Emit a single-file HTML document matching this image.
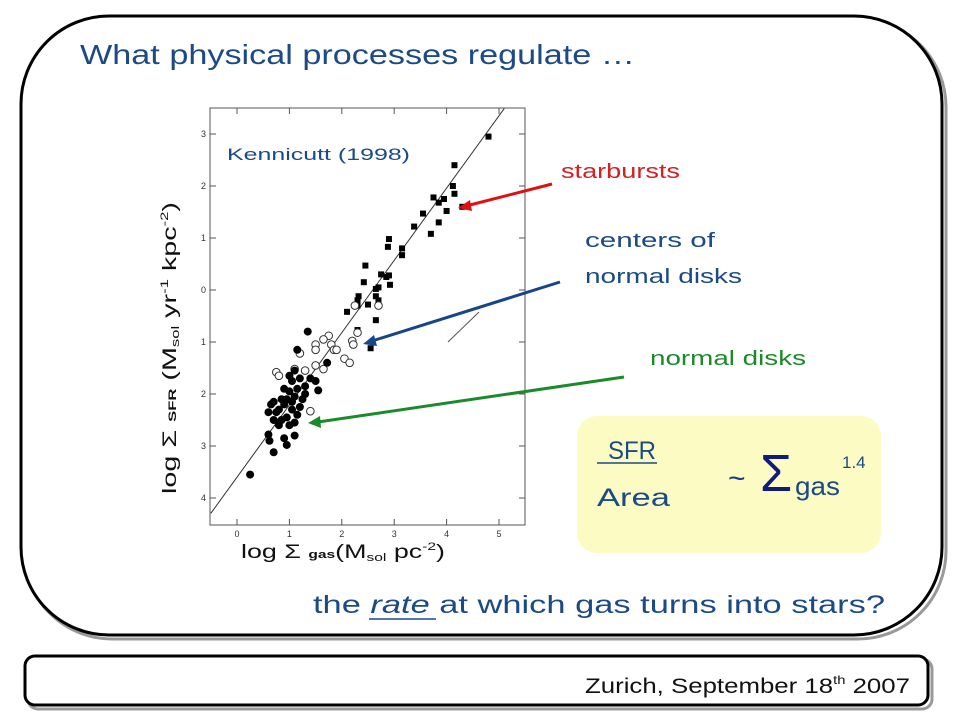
<!DOCTYPE html>
<html><head><meta charset="utf-8"><style>
html,body{margin:0;padding:0;background:#fff;}
body{width:960px;height:720px;position:relative;overflow:hidden;font-family:"Liberation Sans",sans-serif;}
</style></head><body>
<svg id="slide" width="960" height="720" viewBox="0 0 960 720" xmlns="http://www.w3.org/2000/svg" font-family="Liberation Sans, sans-serif">
  <rect x="24" y="19" width="922" height="620" rx="88" fill="none" stroke="#999" stroke-width="3"/>
  <rect x="21" y="16" width="921" height="619" rx="88" fill="#fff" stroke="#000" stroke-width="3"/>
  <rect x="28" y="659" width="904" height="50" rx="10" fill="none" stroke="#999" stroke-width="3"/>
  <rect x="25" y="656" width="903" height="49" rx="10" fill="#fff" stroke="#000" stroke-width="3"/>
  <text x="585" y="693" font-size="21" fill="#111" textLength="325" lengthAdjust="spacingAndGlyphs">Zurich,  September 18<tspan font-size="12" dy="-9">th</tspan><tspan dy="9"> 2007</tspan></text>

  <text x="80" y="64" font-size="28" fill="#1b4a86" textLength="555" lengthAdjust="spacingAndGlyphs">What physical processes regulate …</text>

  <g id="chart">
    <rect x="210" y="108" width="315" height="417" fill="#fff" stroke="#555" stroke-width="1"/>
    <g id="ticks"></g>
    <line id="fitline" stroke="#333" stroke-width="1"/>
    <g id="marks"></g>
    <line x1="448" y1="342" x2="479" y2="312" stroke="#555" stroke-width="1"/>
    <text x="227" y="160" font-size="17" fill="#1b4a86" textLength="183" lengthAdjust="spacingAndGlyphs">Kennicutt (1998)</text>
    <text x="241" y="558" font-size="19" fill="#111" textLength="204" lengthAdjust="spacingAndGlyphs">log Σ <tspan font-size="11" font-weight="bold">gas</tspan>(M<tspan font-size="11" dy="3">sol</tspan><tspan dy="-3"> pc</tspan><tspan font-size="11" dy="-8">-2</tspan><tspan dy="8">)</tspan></text>
    <text transform="translate(176,494) rotate(-90)" font-size="19" fill="#111" textLength="292" lengthAdjust="spacingAndGlyphs">log Σ <tspan font-size="11" font-weight="bold">SFR</tspan> (M<tspan font-size="11" dy="3">sol</tspan><tspan dy="-3"> yr</tspan><tspan font-size="11" dy="-8">-1</tspan><tspan dy="8"> kpc</tspan><tspan font-size="11" dy="-8">-2</tspan><tspan dy="8">)</tspan></text>
  </g>

  <text x="561" y="178" font-size="20" fill="#d42020" textLength="119" lengthAdjust="spacingAndGlyphs">starbursts</text>
  <line x1="552" y1="184" x2="466" y2="206" stroke="#e01010" stroke-width="3"/>
  <polygon points="458,208 470,200 472,211" fill="#e01010"/>
  <text x="585" y="247" font-size="20" fill="#1b4a86" textLength="130" lengthAdjust="spacingAndGlyphs">centers of</text>
  <text x="585" y="283" font-size="20" fill="#1b4a86" textLength="157" lengthAdjust="spacingAndGlyphs">normal disks</text>
  <line x1="560" y1="282" x2="372" y2="341" stroke="#16468a" stroke-width="3"/>
  <polygon points="363,344 374,335 377,346" fill="#16468a"/>
  <text x="650" y="365" font-size="20" fill="#1a8a2a" textLength="156" lengthAdjust="spacingAndGlyphs">normal disks</text>
  <line x1="624" y1="377" x2="318" y2="422" stroke="#1a8a2a" stroke-width="3"/>
  <polygon points="308,423 320,416 321,428" fill="#1a8a2a"/>

  <rect x="577" y="416" width="304" height="137" rx="20" fill="#fdfbc4"/>
  <text x="608" y="459" font-size="25" fill="#1b4a86" textLength="48" lengthAdjust="spacingAndGlyphs">SFR</text>
  <line x1="597" y1="463" x2="657" y2="463" stroke="#1b4a86" stroke-width="1.5"/>
  <text x="597" y="506" font-size="25" fill="#1b4a86" textLength="73" lengthAdjust="spacingAndGlyphs">Area</text>
  <text x="728" y="488" font-size="30" fill="#1b3a86">~</text>
  <text x="760" y="491" font-size="52" fill="#101a80">Σ</text>
  <text x="795" y="495" font-size="26" fill="#1b4a86" textLength="45" lengthAdjust="spacingAndGlyphs">gas</text>
  <text x="842" y="468" font-size="17" fill="#1b4a86">1.4</text>

  <text x="313" y="613" font-size="25" fill="#1b4a86" textLength="572" lengthAdjust="spacingAndGlyphs">the <tspan font-style="italic">rate</tspan> at which gas turns into stars?</text>
  <line x1="369" y1="619" x2="436" y2="619" stroke="#1b4a86" stroke-width="1.5"/>
</svg>
<script>
const xTicks = [0,1,2,3,4,5];
const yTicks = [3,2,1,0,-1,-2,-3,-4];
const yTickLabels = ["3","2","1","0","1","2","3","4"];
const fitSlope = 1.39;
const fitIntercept = -3.6;
const starburstX = [4.8,4.15,4.12,4.15,4.3,3.75,3.85,3.95,4.0,3.55,3.85,3.7,3.38,2.9,2.88,3.15,3.15,2.45,2.75,2.85,2.9,2.42,2.92,2.65,2.7,2.32,2.3,2.3,2.65,2.7,2.5,2.1,2.65,2.3,2.55];
const starburstY = [2.95,2.4,2.0,1.85,1.6,1.78,1.68,1.75,1.52,1.47,1.3,1.08,1.22,0.98,0.83,0.8,0.67,0.47,0.3,0.25,0.28,0.15,0.1,0.02,0.05,-0.12,-0.2,-0.3,-0.12,-0.2,-0.28,-0.42,-0.58,-0.77,-1.12];
const centerX = [1.75,1.65,1.5,1.5,1.8,1.85,1.9,2.2,2.22,2.3,2.7,2.25,2.05,2.15,1.5,1.65,1.2,1.3,0.75,0.8,1.4,1.1];
const centerY = [-0.88,-0.95,-1.05,-1.15,-1.05,-1.15,-1.15,-0.98,-1.05,-0.82,-0.3,-0.3,-1.32,-1.4,-1.45,-1.52,-1.22,-1.55,-1.58,-1.65,-2.33,-1.52];
const diskX = [1.35,1.15,1.72,0.25,0.7,0.95,0.9,1.1,0.6,0.62,1.5,1.55,1.4,1.1,1.0,1.05,1.2,1.3,0.6,0.65,0.7,0.8,0.85,0.9,0.95,1.0,1.05,1.1,1.15,1.2,1.25,0.85,0.75,1.0,0.95,1.15,1.3,0.9,1.05,0.7,1.1,0.8];
const diskY = [-0.8,-1.15,-1.4,-3.55,-3.12,-2.98,-2.85,-2.8,-2.78,-2.9,-1.75,-1.93,-1.7,-1.55,-1.65,-1.75,-1.7,-1.85,-2.35,-2.2,-2.5,-2.3,-2.1,-2.2,-2.45,-2.6,-2.3,-2.05,-2.4,-2.25,-2.1,-2.5,-2.35,-1.95,-2.1,-1.9,-2.0,-1.9,-2.15,-2.15,-2.55,-2.6];

const NS = "http://www.w3.org/2000/svg";
const X = v => 237 + 52.4 * v;
const Y = v => 290 - 52 * v;
const ticks = document.getElementById('ticks');
const marks = document.getElementById('marks');
function mk(tag, attrs, parent){const e=document.createElementNS(NS,tag);for(const k in attrs)e.setAttribute(k,attrs[k]);parent.appendChild(e);return e;}
xTicks.forEach(v=>{
  const t=mk('line',{x1:X(v),x2:X(v),y1:525,y2:519,stroke:'#555'},ticks);
  
  
  const t2=mk('line',{x1:X(v),x2:X(v),y1:108,y2:114,stroke:'#555'},ticks);
  
  
  const l=mk('text',{x:X(v),y:537,'font-size':9,'text-anchor':'middle',fill:'#333'},ticks);
  l.textContent=String(v);
  
  
});
yTicks.forEach((v,i)=>{
  const t=mk('line',{x1:210,x2:216,y1:Y(v),y2:Y(v),stroke:'#555'},ticks);
  
  
  const t2=mk('line',{x1:519,x2:525,y1:Y(v),y2:Y(v),stroke:'#555'},ticks);
  
  
  const l=mk('text',{x:206,y:Y(v)+3,'font-size':9,'text-anchor':'end',fill:'#333'},ticks);
  l.textContent=yTickLabels[i];
  
  
});
const fl=document.getElementById('fitline');
const x0=-0.5, x1=5.1;
fl.setAttribute('x1',X(x0));fl.setAttribute('y1',Y(fitSlope*x0+fitIntercept));
fl.setAttribute('x2',X(x1));fl.setAttribute('y2',Y(fitSlope*x1+fitIntercept));
starburstX.forEach((x,i)=>{
  const r=mk('rect',{x:X(x)-3,y:Y(starburstY[i])-3,width:6,height:6,fill:'#000'},marks);
  
  
});
centerX.forEach((x,i)=>{
  const c=mk('circle',{cx:X(x),cy:Y(centerY[i]),r:3.8,fill:'#fff',stroke:'#333','stroke-width':1},marks);
  
  
});
diskX.forEach((x,i)=>{
  const c=mk('circle',{cx:X(x),cy:Y(diskY[i]),r:4,fill:'#000'},marks);
  
  
});
</script>
</body></html>
